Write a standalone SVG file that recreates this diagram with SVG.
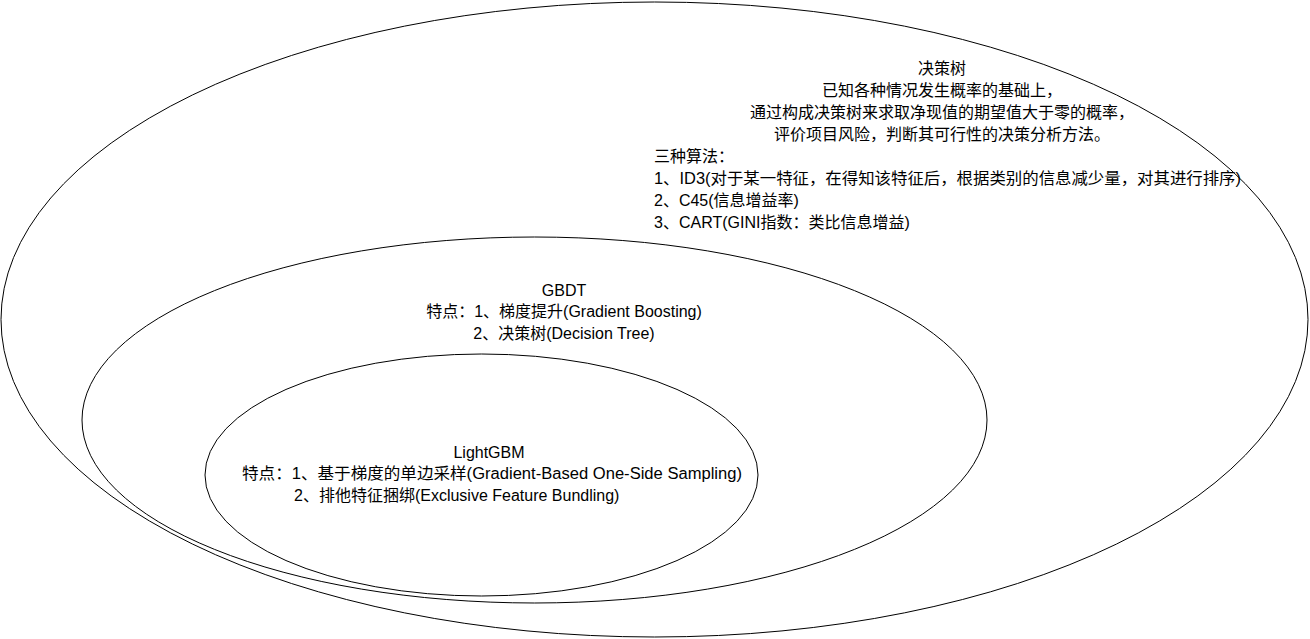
<svg xmlns="http://www.w3.org/2000/svg" width="1310" height="639" viewBox="0 0 1310 639">
<style>
.e{fill:none;stroke:#000;stroke-width:1}
.t{font-family:"Liberation Sans","Noto Sans CJK SC",sans-serif;font-size:16px;fill:#000}
.c{text-anchor:middle}
</style>
<rect width="1310" height="639" fill="#fff"/>
<g id="outer">
<ellipse class="e" cx="654.5" cy="319.5" rx="653.5" ry="317.5"/>
<text class="t c" x="942" y="74">决策树</text>
<text class="t c" x="942" y="96">已知各种情况发生概率的基础上，</text>
<text class="t c" x="942" y="118">通过构成决策树来求取净现值的期望值大于零的概率，</text>
<text class="t c" x="942" y="140">评价项目风险，判断其可行性的决策分析方法。</text>
<text class="t" x="654" y="162">三种算法：</text>
<text class="t" x="654" y="184" textLength="587" lengthAdjust="spacingAndGlyphs">1、ID3(对于某一特征，在得知该特征后，根据类别的信息减少量，对其进行排序)</text>
<text class="t" x="654" y="206">2、C45(信息增益率)</text>
<text class="t" x="654" y="228">3、CART(GINI指数：类比信息增益)</text>
</g>
<g id="gbdt">
<ellipse class="e" cx="534.5" cy="420" rx="452.5" ry="183"/>
<text class="t c" x="564" y="296">GBDT</text>
<text class="t c" x="564" y="317">特点：1、梯度提升(Gradient Boosting)</text>
<text class="t c" x="564" y="339">2、决策树(Decision Tree)</text>
</g>
<g id="lightgbm">
<ellipse class="e" cx="481.5" cy="475" rx="276.5" ry="121"/>
<text class="t c" x="489" y="458">LightGBM</text>
<text class="t c" x="492" y="479" textLength="500" lengthAdjust="spacingAndGlyphs">特点：1、基于梯度的单边采样(Gradient-Based One-Side Sampling)</text>
<text class="t" x="294" y="501">2、排他特征捆绑(Exclusive Feature Bundling)</text>
</g>
<g id="connectors"/>
</svg>
